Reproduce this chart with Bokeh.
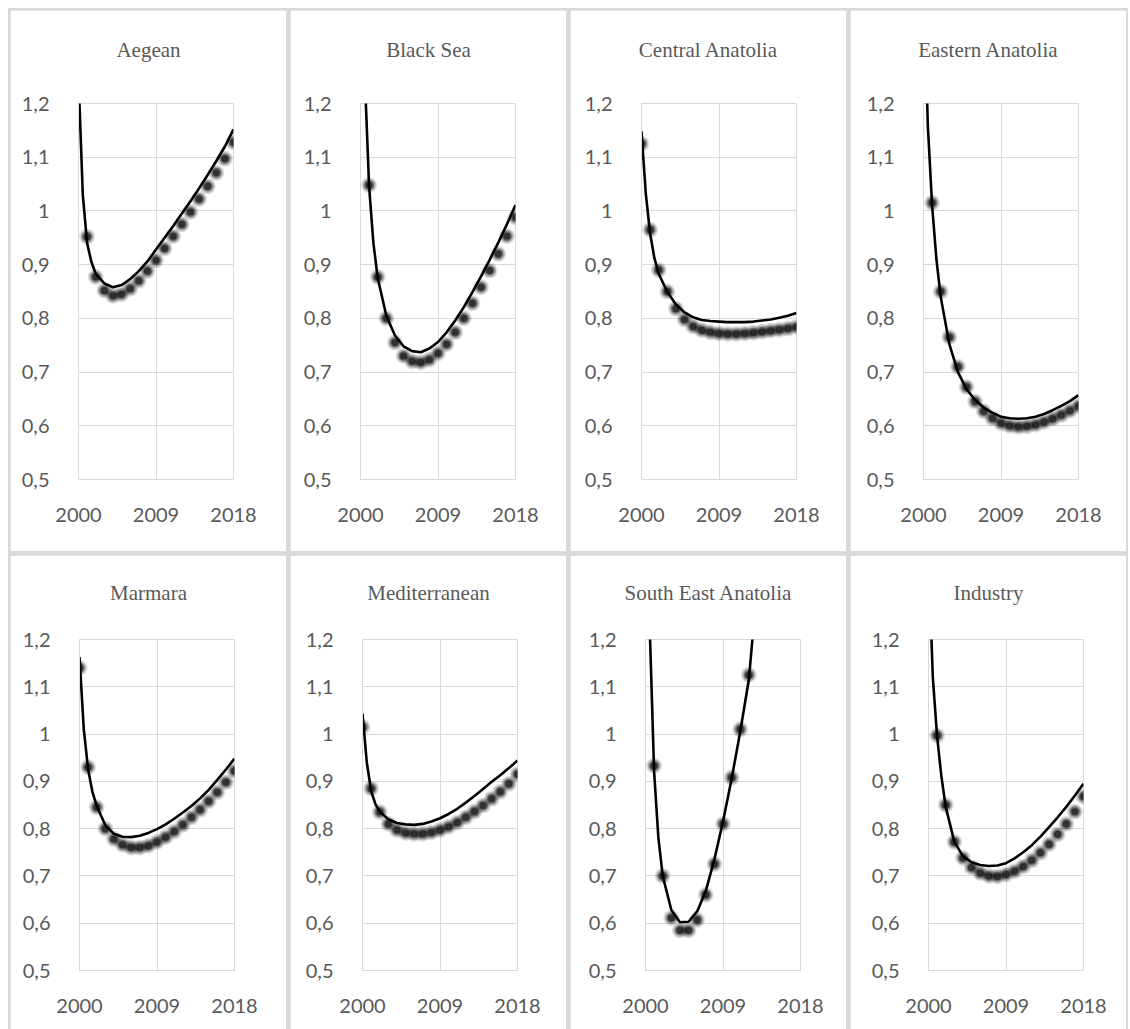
import numpy as np
from bokeh.plotting import figure
from bokeh.layouts import row, column
from bokeh.models import FixedTicker, CustomJSTickFormatter, Range1d, Title
from bokeh.embed import file_html
from bokeh.resources import INLINE

# ---------------- data ----------------
years = list(range(2000, 2019))
trend_x = [2000, 2000.5, 2001, 2001.5, 2002] + list(range(2003, 2019))
x_ticks = [2000, 2009, 2018]
y_ticks = [0.5, 0.6, 0.7, 0.8, 0.9, 1.0, 1.1, 1.2]

titles = ["Aegean", "Black Sea", "Central Anatolia", "Eastern Anatolia",
          "Marmara", "Mediterranean", "South East Anatolia", "Industry"]

aegean_pts = [None, 0.952, 0.877, 0.852, 0.842, 0.845, 0.855, 0.870, 0.888, 0.908,
              0.930, 0.953, 0.975, 0.998, 1.022, 1.046, 1.071, 1.097, 1.128]
aegean_trend = [1.25, 1.03, 0.94, 0.905, 0.883, 0.865, 0.858, 0.862, 0.873, 0.888, 0.906,
                0.928, 0.950, 0.972, 0.995, 1.018, 1.042, 1.067, 1.093, 1.120, 1.152]

blacksea_pts = [None, 1.048, 0.877, 0.800, 0.755, 0.730, 0.720, 0.718, 0.723, 0.735,
                0.752, 0.774, 0.800, 0.828, 0.858, 0.889, 0.920, 0.953, 0.988]
blacksea_trend = [1.6, 1.25, 1.045, 0.94, 0.875, 0.805, 0.768, 0.748, 0.739, 0.737, 0.744,
                  0.756, 0.774, 0.796, 0.821, 0.849, 0.878, 0.909, 0.941, 0.975, 1.011]

central_pts = [1.125, 0.965, 0.890, 0.850, 0.818, 0.798, 0.785, 0.778, 0.774, 0.772,
               0.771, 0.771, 0.772, 0.773, 0.775, 0.777, 0.779, 0.781, 0.784]
central_trend = [1.148, 1.032, 0.958, 0.912, 0.883, 0.849, 0.826, 0.811, 0.802, 0.797, 0.795,
                 0.794, 0.793, 0.793, 0.793, 0.794, 0.796, 0.798, 0.801, 0.805, 0.810]

eastern_pts = [None, 1.015, 0.850, 0.765, 0.710, 0.672, 0.645, 0.627, 0.614, 0.605,
               0.600, 0.598, 0.599, 0.602, 0.607, 0.613, 0.620, 0.628, 0.637]
eastern_trend = [1.45, 1.16, 1.01, 0.91, 0.84, 0.752, 0.700, 0.668, 0.648, 0.634, 0.624,
                 0.617, 0.614, 0.613, 0.614, 0.617, 0.622, 0.629, 0.637, 0.646, 0.657]

marmara_pts = [1.140, 0.930, 0.845, 0.800, 0.778, 0.766, 0.760, 0.760, 0.764, 0.772,
               0.782, 0.794, 0.808, 0.824, 0.840, 0.858, 0.877, 0.898, 0.922]
marmara_trend = [1.163, 1.01, 0.925, 0.878, 0.848, 0.807, 0.789, 0.783, 0.782, 0.785, 0.791,
                 0.799, 0.809, 0.821, 0.834, 0.848, 0.864, 0.882, 0.903, 0.925, 0.948]

medit_pts = [1.015, 0.885, 0.835, 0.810, 0.797, 0.791, 0.789, 0.789, 0.792, 0.797,
             0.804, 0.813, 0.824, 0.836, 0.849, 0.863, 0.878, 0.895, 0.915]
medit_trend = [1.043, 0.94, 0.88, 0.852, 0.836, 0.820, 0.812, 0.809, 0.808, 0.810, 0.815,
               0.822, 0.831, 0.842, 0.855, 0.869, 0.884, 0.899, 0.913, 0.928, 0.944]

southeast_pts = [None, 0.933, 0.700, 0.611, 0.585, 0.585, 0.607, 0.660, 0.725, 0.810,
                 0.908, 1.010, 1.125, None, None, None, None, None, None]
southeast_trend = [1.75, 1.22, 0.92, 0.78, 0.70, 0.628, 0.602, 0.603, 0.625, 0.668, 0.735,
                   0.815, 0.905, 1.005, 1.115, 1.32, 1.55, 1.8, 2.1, 2.4, 2.75]

industry_pts = [None, 0.997, 0.850, 0.772, 0.738, 0.718, 0.706, 0.700, 0.699, 0.703,
                0.710, 0.720, 0.733, 0.749, 0.767, 0.788, 0.810, 0.836, 0.868]
industry_trend = [1.38, 1.12, 0.995, 0.91, 0.846, 0.772, 0.742, 0.729, 0.723, 0.721, 0.722,
                  0.727, 0.737, 0.750, 0.765, 0.783, 0.803, 0.824, 0.846, 0.870, 0.895]

all_pts = [aegean_pts, blacksea_pts, central_pts, eastern_pts,
           marmara_pts, medit_pts, southeast_pts, industry_pts]
all_trend = [aegean_trend, blacksea_trend, central_trend, eastern_trend,
             marmara_trend, medit_trend, southeast_trend, industry_trend]

# ---------------- styling / layout ----------------
GRID = "#d9d9d9"
TXT = "#595959"
FIG_W = 276
FRAME_W = 155
TITLE_PX = 21
row_h = [541, 474]
row_top = [93, 84]
row_bottom = [72, 59]
title_gap = [39, 32]          # empty band between frame top and title box
lefts = [[68, 70, 71, 73], [69, 72, 75, 78]]

# approximate Times-style advance widths (per 1000 em) to centre titles on the panel
_W = {"A": 722, "B": 667, "C": 667, "E": 611, "I": 333, "M": 889, "S": 556, " ": 250,
      "a": 444, "c": 444, "d": 500, "e": 444, "g": 500, "h": 500, "i": 278, "k": 500,
      "l": 278, "m": 778, "n": 500, "o": 500, "r": 333, "s": 389, "t": 278, "u": 500,
      "y": 500}


def text_width(s):
    return sum(_W.get(ch, 500) for ch in s) * TITLE_PX / 1000.0


y_fmt = """
var s = tick.toFixed(1).replace('.', ',');
if (s.endsWith(',0')) { s = s.slice(0, -2); }
return s;
"""


def make_panel(i):
    r, c = divmod(i, 4)
    left = lefts[r][c]
    p = figure(width=FIG_W, height=row_h[r], title=None,
               x_range=Range1d(2000, 2018), y_range=Range1d(0.5, 1.2),
               output_backend="svg", toolbar_location=None,
               min_border_left=left, min_border_right=FIG_W - left - FRAME_W,
               min_border_top=row_top[r], min_border_bottom=row_bottom[r],
               background_fill_color="white", border_fill_color="white")
    # spacer band directly above the frame, then the panel title
    p.add_layout(Title(text=" ", text_font_size="1px", standoff=title_gap[r]), "above")
    p.add_layout(Title(text=titles[i], text_font="Liberation Serif",
                       text_font_size=f"{TITLE_PX}px", text_font_style="normal",
                       text_color=TXT, align="left", standoff=0,
                       offset=FIG_W / 2 - left - text_width(titles[i]) / 2), "above")

    p.outline_line_color = GRID
    p.xgrid.grid_line_color = GRID
    p.ygrid.grid_line_color = GRID

    p.xaxis.ticker = FixedTicker(ticks=x_ticks)
    p.yaxis.ticker = FixedTicker(ticks=y_ticks)
    p.xaxis.formatter = CustomJSTickFormatter(code="return tick.toFixed(0);")
    p.yaxis.formatter = CustomJSTickFormatter(code=y_fmt)
    for ax in (p.xaxis, p.yaxis):
        ax.axis_line_color = GRID
        ax.major_tick_line_color = None
        ax.minor_tick_line_color = None
        ax.major_label_text_font = "Lato"
        ax.major_label_text_font_size = "20px"
        ax.major_label_text_color = TXT
    p.xaxis.major_label_standoff = 22
    p.yaxis.major_label_standoff = 23

    pts = np.array(all_pts[i], dtype=float)
    # soft, blurred markers
    for size, alpha in [(16, 0.13), (13, 0.22), (10, 0.38), (7, 0.55)]:
        p.scatter(years, pts, size=size, color="black", alpha=alpha, line_color=None)
    p.line(trend_x, all_trend[i], line_color="black", line_width=2.6)
    return p


figs = [make_panel(i) for i in range(8)]
r1 = row(figs[:4], spacing=4)
r2 = row(figs[4:], spacing=4)
inner = column(r1, r2, spacing=4,
               styles={"background-color": GRID, "padding": "2px 2px 0px 2px"})
layout = column(inner, styles={"padding": "8px 0px 0px 8px", "background-color": "white"})

open("out.html", "w").write(file_html(layout, INLINE))
